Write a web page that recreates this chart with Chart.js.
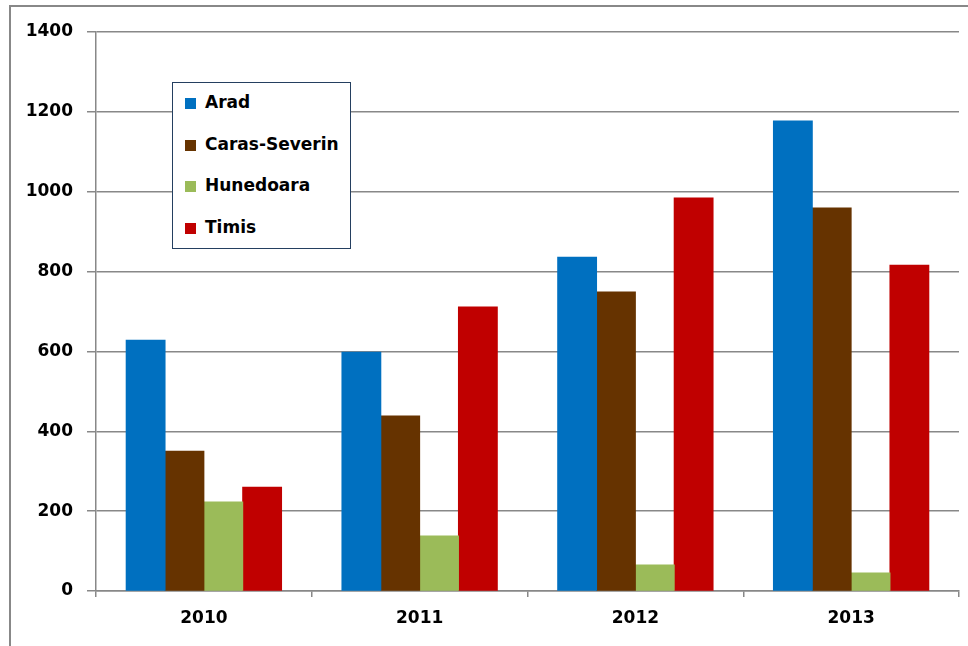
<!DOCTYPE html>
<html>
<head>
<meta charset="utf-8">
<script src="https://cdn.jsdelivr.net/npm/chart.js@4/dist/chart.umd.min.js"></script>
<style>
  html, body { margin: 0; padding: 0; background: #fff; }
  #wrap { position: relative; width: 968px; height: 646px; }
  #frame {
    position: absolute; left: 9px; top: 5px; right: 0; bottom: 0;
    border-top: 2px solid #888; border-left: 2px solid #888;
    pointer-events: none;
  }
  #legend {
    position: absolute; left: 172px; top: 82px; width: 177px; height: 165px;
    border: 1px solid #243f60; background: #fff;
    font-family: "DejaVu Sans", sans-serif; font-weight: bold; font-size: 17px; color: #000;
  }
  .item { position: absolute; left: 12px; height: 20px; line-height: 20px; white-space: nowrap; }
  .item span.box { display: inline-block; width: 11px; height: 11px; margin-right: 9px; vertical-align: -1px; }
</style>
</head>
<body>
<div id="wrap">
  <canvas id="barChart" width="968" height="646"></canvas>
  <div id="frame"></div>
  <div id="legend"></div>
</div>
<script>
// data
var years = ["2010", "2011", "2012", "2013"];
var arad = [628, 598, 836, 1177];
var carasSeverin = [350, 438, 749, 959];
var hunedoara = [223, 138, 65, 45];
var timis = [260, 711, 984, 816];
var yTicks = [0, 200, 400, 600, 800, 1000, 1200, 1400];

var seriesNames = ["Arad", "Caras-Severin", "Hunedoara", "Timis"];
var seriesColors = ["#0070C0", "#663300", "#9BBB59", "#C00000"];
var seriesData = [arad, carasSeverin, hunedoara, timis];

var tickFont = { family: "DejaVu Sans", size: 17, weight: "bold" };

var ctx = document.getElementById("barChart").getContext('2d');
var barChart = new Chart(ctx, {
    type: 'bar',
    data: {
        labels: years,
        datasets: seriesNames.map(function (name, i) {
            return {
                label: name,
                data: seriesData[i],
                backgroundColor: seriesColors[i],
                borderColor: seriesColors[i],
                borderWidth: 0,
                inflateAmount: 0.5,
                categoryPercentage: 0.72,
                barPercentage: 1.0
            };
        })
    },
    options: {
        responsive: false,
        animation: false,
        layout: { padding: { top: 32, right: 9, left: 0, bottom: 0 } },
        plugins: {
            legend: { display: false },
            tooltip: { enabled: false }
        },
        scales: {
            x: {
                grid: { drawOnChartArea: false, drawTicks: true, tickLength: 6, color: '#888', lineWidth: 1.5 },
                border: { color: '#888', width: 1.5 },
                ticks: { color: '#000', font: tickFont, padding: 11 },
                afterFit: function (scale) { scale.height = 55; }
            },
            y: {
                min: 0,
                max: 1400,
                afterBuildTicks: function (scale) {
                    scale.ticks = yTicks.map(function (v) { return { value: v }; });
                },
                grid: { color: '#888', lineWidth: 1.5, tickLength: 9 },
                border: { color: '#888', width: 1.5 },
                ticks: {
                    color: '#000', font: tickFont, padding: 14,
                    callback: function (value) { return String(value); }
                },
                afterFit: function (scale) { scale.width = 96; }
            }
        }
    }
});

// legend box inside the plot
var legend = document.getElementById("legend");
seriesNames.forEach(function (name, i) {
    var row = document.createElement("div");
    row.className = "item";
    row.style.top = (9 + i * 41.7) + "px";
    row.innerHTML = '<span class="box" style="background:' + seriesColors[i] + '"></span>' + name;
    legend.appendChild(row);
});
</script>
</body>
</html>
